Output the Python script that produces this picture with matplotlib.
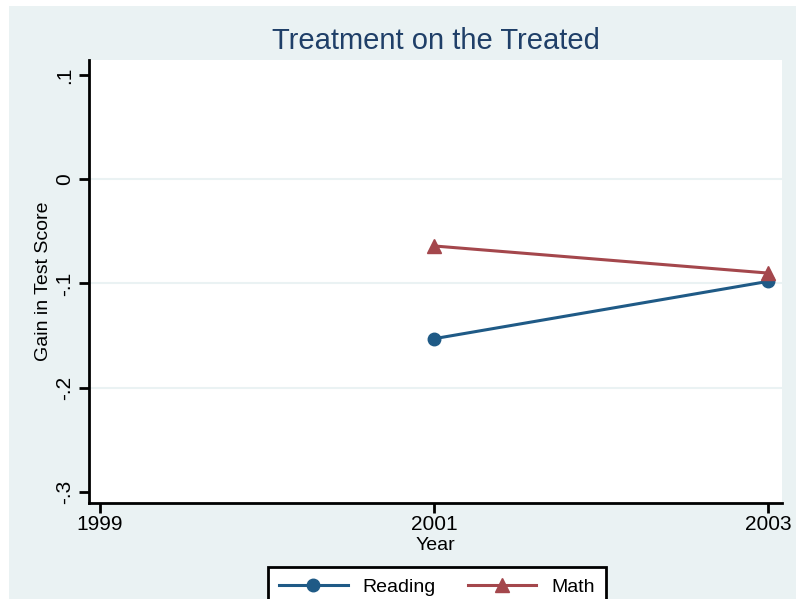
import matplotlib
matplotlib.use("Agg")
import matplotlib.pyplot as plt
from matplotlib.patches import Rectangle

# Data
years = [2001, 2003]
reading = [-0.153, -0.098]
math_scores = [-0.064, -0.090]
x_ticks = [1999, 2001, 2003]
y_ticks = [-0.3, -0.2, -0.1, 0.0, 0.1]
y_tick_labels = ["-.3", "-.2", "-.1", "0", ".1"]

navy = "#1F5A86"
maroon = "#A4474C"
region_bg = "#EAF2F3"
title_color = "#1F3F68"

plt.rcParams["font.family"] = ["Liberation Sans", "DejaVu Sans"]

W, H = 796, 599
fig = plt.figure(figsize=(W / 100, H / 100), dpi=100)
fig.patch.set_facecolor("white")
fig.patches.append(Rectangle((9 / W, 0), 1 - 9 / W, 1 - 6 / H,
                             transform=fig.transFigure, facecolor=region_bg,
                             edgecolor="none", zorder=-10))

ax = fig.add_axes([89 / W, 1 - 503 / H, (782 - 89) / W, (503 - 60) / H])
ax.set_facecolor("white")

ax.set_xlim(1998.934, 2003.084)
ax.set_ylim(-0.3106, 0.1144)

# light grid lines at interior ticks only
for t in y_ticks[1:-1]:
    ax.axhline(t, color=region_bg, lw=1.5, zorder=0)

ax.plot(years, reading, color=navy, lw=2.2, marker="o", ms=9,
        markeredgecolor=navy, label="Reading", zorder=3)
ax.plot(years, math_scores, color=maroon, lw=2.2, marker="^", ms=10,
        markeredgecolor=maroon, label="Math", zorder=3)

for s in ["top", "right"]:
    ax.spines[s].set_visible(False)
for s in ["left", "bottom"]:
    ax.spines[s].set_linewidth(2)
    ax.spines[s].set_color("black")

ax.set_xticks(x_ticks)
ax.set_xticklabels([str(x) for x in x_ticks], fontsize=15)
ax.set_yticks(y_ticks)
ax.set_yticklabels(y_tick_labels, fontsize=15, rotation=90, va="center")
ax.tick_params(axis="both", direction="out", length=7, width=2, color="black")
ax.tick_params(axis="x", pad=2)
ax.tick_params(axis="y", pad=4)

ax.set_xlabel("Year", fontsize=14, labelpad=2)
ax.set_ylabel("Gain in Test Score", fontsize=14, labelpad=2)

fig.text((89 + 782) / 2 / W, 1 - 41 / H, "Treatment on the Treated",
         fontsize=21, color=title_color, ha="center", va="center")

leg = fig.legend(loc="upper center", bbox_to_anchor=(437 / W, 1 - 567 / H),
                 ncol=2, fontsize=14, frameon=True, fancybox=False,
                 edgecolor="black", framealpha=1, handlelength=3.5,
                 columnspacing=1.7, handletextpad=0.75, borderpad=0.6,
                 borderaxespad=0)
leg.get_frame().set_linewidth(2)

fig.savefig("out.png", dpi=100, facecolor=fig.get_facecolor())
